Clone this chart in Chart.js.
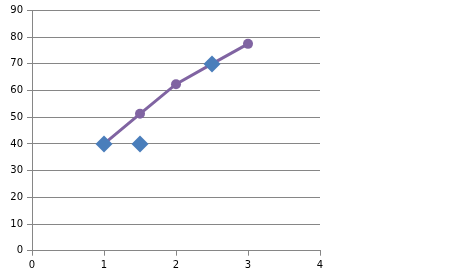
<!DOCTYPE html>
<html>
<head>
<meta charset="utf-8">
<script src="https://cdn.jsdelivr.net/npm/chart.js@4"></script>
<style>
    html, body { margin: 0; padding: 0; background: #fff; }
    #wrap { width: 455px; height: 279px; }
</style>
</head>
<body>
<div id="wrap"><canvas id="chart" width="455" height="279"></canvas></div>
<script>
// series
const lineX = [1, 1.5, 2, 2.5, 3];
const lineY = [40, 51.3, 62.4, 70, 77.5];
const markerX = [1, 1.5, 2.5];
const markerY = [40, 40, 70];

const xTicks = [0, 1, 2, 3, 4];
const yMax = 90;

const gridColor = '#868686';

const toPoints = (xs, ys) => xs.map((x, i) => ({ x: x, y: ys[i] }));

new Chart(document.getElementById('chart'), {
    type: 'scatter',
    data: {
        datasets: [
            {
                label: 'markers',
                data: toPoints(markerX, markerY),
                pointStyle: 'rectRot',
                pointRadius: 8.5,
                backgroundColor: '#4a7ebb',
                borderColor: '#4a7ebb',
                borderWidth: 0,
                showLine: false,
                order: 0
            },
            {
                label: 'line',
                data: toPoints(lineX, lineY),
                showLine: true,
                borderColor: '#8064a2',
                backgroundColor: '#8064a2',
                borderWidth: 3,
                pointRadius: 5,
                pointBorderWidth: 0,
                order: 1
            }
        ]
    },
    options: {
        responsive: false,
        animation: false,
        layout: { padding: { top: 10.5, right: 135, left: 0, bottom: 0 } },
        plugins: { legend: { display: false }, tooltip: { enabled: false } },
        scales: {
            x: {
                type: 'linear',
                min: 0,
                max: 4,
                afterBuildTicks: axis => { axis.ticks = xTicks.map(v => ({ value: v })); },
                afterFit: axis => { axis.height = 28.3; },
                grid: { drawOnChartArea: false, drawTicks: true, tickLength: 5, color: gridColor },
                border: { color: gridColor, width: 1 },
                ticks: { color: '#000', padding: 4, font: { family: 'DejaVu Sans', size: 10 } }
            },
            y: {
                min: 0,
                max: yMax,
                afterFit: axis => { axis.width = 32; },
                grid: { color: gridColor, tickLength: 5 },
                border: { color: gridColor, width: 1 },
                ticks: { stepSize: 10, color: '#000', padding: 4, font: { family: 'DejaVu Sans', size: 10 } }
            }
        }
    }
});
</script>
</body>
</html>
